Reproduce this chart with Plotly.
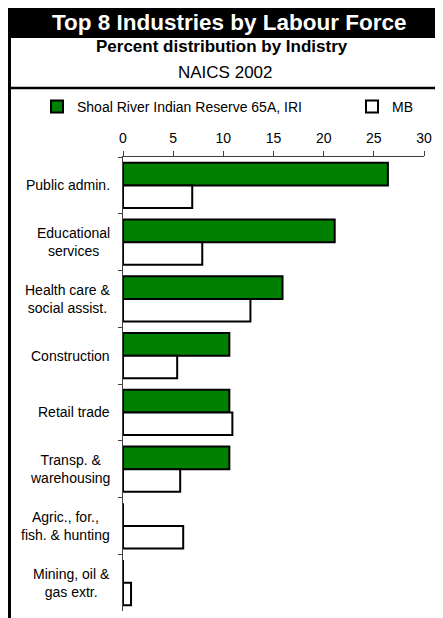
import plotly.graph_objects as go

industries = [
    "Public admin.",
    "Educational<br>services",
    "Health care &<br>social assist.",
    "Construction",
    "Retail trade",
    "Transp. &<br>warehousing",
    "Agric., for.,<br>fish. & hunting",
    "Mining, oil &<br>gas extr.",
]
shoal_river = [26.4, 21.1, 15.9, 10.6, 10.6, 10.6, 0.0, 0.0]
manitoba = [6.9, 7.9, 12.7, 5.4, 10.9, 5.7, 6.0, 0.8]
x_ticks = [0, 5, 10, 15, 20, 25, 30]

FONT = "Liberation Sans, Arial, sans-serif"

# the page body adds an 8px margin, so the figure is 8px smaller each way
PAGE_OFFSET = 8


def px_x(p):
    # page pixel -> paper x (plot area spans 123..424 on the page)
    return (p - 123) / 301


def px_y(p):
    # page pixel -> paper y (plot area spans 157..611 on the page)
    return (611 - p) / 454


fig = go.Figure()
fig.add_trace(
    go.Bar(
        y=industries,
        x=shoal_river,
        orientation="h",
        name="Shoal River Indian Reserve 65A, IRI",
        marker=dict(color="#008000", line=dict(color="black", width=2)),
        legendwidth=270,
    )
)
fig.add_trace(
    go.Bar(
        y=industries,
        x=manitoba,
        orientation="h",
        name="MB",
        marker=dict(color="white", line=dict(color="black", width=2)),
    )
)

shapes = [
    # black title band
    dict(type="rect", xref="paper", yref="paper",
         x0=px_x(PAGE_OFFSET), x1=px_x(460), y0=px_y(38), y1=px_y(8),
         fillcolor="black", line=dict(width=0), layer="below"),
    # left frame line
    dict(type="line", xref="paper", yref="paper",
         x0=px_x(PAGE_OFFSET + 1.5), x1=px_x(PAGE_OFFSET + 1.5),
         y0=px_y(640), y1=px_y(8),
         line=dict(color="black", width=3)),
    # separator under subtitle
    dict(type="line", xref="paper", yref="paper",
         x0=px_x(PAGE_OFFSET), x1=px_x(460), y0=px_y(88), y1=px_y(88),
         line=dict(color="black", width=2.5)),
]

annotations = [
    dict(text="<b>Top 8 Industries by Labour Force</b>", x=px_x(229), y=px_y(23),
         yref="paper", font=dict(size=22.5, color="white", family=FONT)),
    dict(text="<b>Percent distribution by Indistry</b>", x=px_x(222), y=px_y(47),
         yref="paper", font=dict(size=17, color="black", family=FONT)),
    dict(text="NAICS 2002", x=px_x(225), y=px_y(73),
         yref="paper", font=dict(size=17, color="black", family=FONT)),
]
for a in annotations:
    a.update(xref="paper", showarrow=False, xanchor="center", yanchor="middle")

# category labels: Excel centres the lines of a wrapped label
for name in industries:
    annotations.append(
        dict(text=name, x=px_x(112), y=name, xref="paper", yref="y",
             xanchor="right", yanchor="middle", align="center",
             showarrow=False, font=dict(size=14, color="black", family=FONT))
    )

fig.update_layout(
    width=443 - PAGE_OFFSET,
    height=618 - PAGE_OFFSET,
    margin=dict(l=123 - PAGE_OFFSET, r=19, t=157 - PAGE_OFFSET, b=7),
    paper_bgcolor="white",
    plot_bgcolor="white",
    font=dict(family=FONT, size=14, color="black"),
    barmode="group",
    bargap=0.2,
    bargroupgap=0,
    showlegend=True,
    legend=dict(
        orientation="h",
        x=px_x(37),
        xanchor="left",
        y=px_y(107),
        yanchor="middle",
        font=dict(size=14, family=FONT),
        bgcolor="rgba(0,0,0,0)",
        itemclick=False,
    ),
    shapes=shapes,
    annotations=annotations,
)

fig.update_xaxes(
    side="top",
    range=[0, 30],
    tickvals=x_ticks,
    ticks="outside",
    ticklen=5,
    tickcolor="#404040",
    showline=True,
    linecolor="#404040",
    linewidth=1,
    showgrid=False,
    zeroline=False,
    ticklabelstandoff=2,
    tickfont=dict(size=14, family=FONT),
)
fig.update_yaxes(
    autorange="reversed",
    ticks="outside",
    tickson="boundaries",
    ticklen=4,
    tickcolor="#404040",
    showline=True,
    linecolor="#404040",
    linewidth=1,
    showgrid=False,
    showticklabels=False,
)

fig.write_html("out.html")
